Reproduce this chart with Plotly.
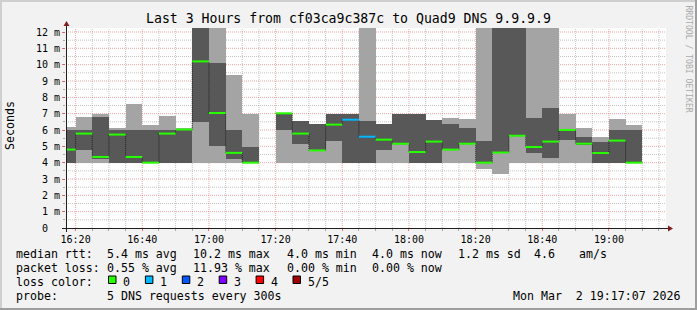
import plotly.graph_objects as go
from datetime import datetime, timedelta

# ---------------- data ----------------
bar_starts = ["16:15", "16:20", "16:25", "16:30", "16:35", "16:40", "16:45", "16:50",
              "16:55", "17:00", "17:05", "17:10", "17:15", "17:20", "17:25", "17:30",
              "17:35", "17:40", "17:45", "17:50", "17:55", "18:00", "18:05", "18:10",
              "18:15", "18:20", "18:25", "18:30", "18:35", "18:40", "18:45", "18:50",
              "18:55", "19:00", "19:05"]
# ms; 13.0 = off the top of the scale (clipped)
ping_min = [4.0, 4.0, 4.0, 4.0, 4.0, 4.0, 4.0, 4.0, 4.0, 4.0, 4.0, 4.0, None, 4.0, 4.0, 4.0,
            4.0, 4.0, 4.0, 4.0, 4.0, 4.0, 4.0, 4.0, 4.0, 3.63, 3.33, 4.0, 4.0, 4.0, 4.0, 4.0,
            4.0, 4.0, 4.0]
ping_p2 = [4.0, 4.8, 4.2, 4.0, 4.0, 4.0, 4.0, 4.0, 6.5, 5.02, 4.2, 4.0, None, 6.0, 5.16, 4.72,
           5.35, 4.0, 4.0, 4.78, 5.12, 4.0, 4.0, 4.76, 5.12, 4.0, 4.6, 5.62, 4.61, 4.31, 5.39, 5.1,
           4.0, 4.0, 4.0]
median = [4.8, 5.78, 4.35, 5.72, 4.35, 4.0, 5.78, 6.03, 10.2, 7.04, 4.6, 4.0, None, 7.02, 5.78, 4.75,
          6.33, 6.63, 5.59, 5.41, 5.16, 4.65, 5.29, 4.8, 5.16, 4.0, 4.62, 5.65, 4.96, 5.29, 6.0, 5.16,
          4.59, 5.35, 4.0]
ping_p4 = [6.0, 6.0, 6.8, 6.0, 6.0, 6.0, 6.0, 6.0, 13.0, 10.12, 6.0, 4.96, None, 7.0, 6.53, 6.37,
           7.0, 7.0, 6.53, 6.37, 7.0, 7.0, 6.59, 6.37, 6.12, 5.35, 13.0, 13.0, 6.74, 7.35, 6.0, 5.57,
           5.27, 6.0, 6.0]
ping_max = [6.2, 6.8, 7.0, 6.12, 7.6, 6.3, 6.86, 6.12, 13.0, 13.0, 9.37, 7.0, None, 7.0, 6.53, 6.37,
            7.0, 7.0, 13.0, 6.37, 7.0, 7.0, 6.59, 6.74, 6.67, 13.0, 13.0, 13.0, 13.0, 13.0, 7.0, 6.12,
            5.57, 6.67, 6.31]
loss = [0, 0, 0, 0, 0, 0, 0, 0, 0, 0, 0, 0, None, 0, 0, 0,
        0, 1, 1, 0, 0, 0, 0, 0, 0, 0, 0, 0, 0, 0, 0, 0,
        0, 0, 0]

loss_labels = ["0", "1", "2", "3", "4", "5/5"]
loss_colors = ["#26ff00", "#00b8ff", "#0059ff", "#7e00ff", "#ff0000", "#a10000"]

y_tick_vals = list(range(0, 13))
y_tick_text = ["0\u00a0\u00a0"] + [f"{v} m" for v in range(1, 13)]

title = "Last 3 Hours from cf03ca9c387c to Quad9 DNS 9.9.9.9"
legend_rows = [
    [("median rtt:", 16), ("5.4 ms avg", 107.3), ("10.2 ms max", 193.3), ("4.0 ms min", 286.5),
     ("4.0 ms now", 372.3), ("1.2 ms sd", 458.3), ("4.6", 534.3), ("am/s", 579.3)],
    [("packet loss:", 16), ("0.55 % avg", 107.3), ("11.93 % max", 193.3), ("0.00 % min", 286.5),
     ("0.00 % now", 372.3)],
    [("loss color:", 16)],
    [("probe:", 16), ("5 DNS requests every 300s", 107.3),
     ("Mon Mar\u00a0\u00a02 19:17:07 2026", 512.7)],
]
row_y = [254, 268, 282, 296]

# ---------------- geometry ----------------
W, H = 697, 310
PL, PT, PW, PH = 66, 28, 600, 200
def px(x):
    return (x - PL) / PW
def py(y):
    return (PT + PH - y) / PH

DAY = datetime(2026, 3, 2)
def ts(hm):
    return DAY + timedelta(hours=int(hm[:2]), minutes=int(hm[3:]))
STEP = timedelta(minutes=5)
x_start = DAY + timedelta(hours=16, minutes=17, seconds=7)
x_end = DAY + timedelta(hours=19, minutes=17, seconds=7)

LIGHT = "#a4a4a4"
DARK = "#585858"
MONO = "DejaVu Sans Mono"

fig = go.Figure()

valid = [i for i in range(len(bar_starts)) if median[i] is not None]
centers = [ts(bar_starts[i]) + STEP / 2 for i in valid]
width_ms = STEP.total_seconds() * 1000

fig.add_trace(go.Bar(
    x=centers, base=[ping_min[i] for i in valid],
    y=[ping_max[i] - ping_min[i] for i in valid],
    width=[width_ms] * len(valid), marker=dict(color=LIGHT, line=dict(width=0)),
    hoverinfo="skip", showlegend=False))
fig.add_trace(go.Bar(
    x=centers, base=[ping_p2[i] for i in valid],
    y=[ping_p4[i] - ping_p2[i] for i in valid],
    width=[width_ms] * len(valid), marker=dict(color=DARK, line=dict(width=0)),
    hoverinfo="skip", showlegend=False))

# dotted connector of the median steps
cx, cy = [], []
for i, s in enumerate(bar_starts):
    if median[i] is None:
        cx.append(None); cy.append(None)
        continue
    cx += [ts(s), ts(s) + STEP]
    cy += [median[i], median[i]]
fig.add_trace(go.Scatter(x=cx, y=cy, mode="lines",
                         line=dict(color="#202020", width=1, dash="1px,1px"),
                         connectgaps=False, hoverinfo="skip", showlegend=False))

# median segments coloured by loss
for lv, col in enumerate(loss_colors):
    sx, sy = [], []
    for i, s in enumerate(bar_starts):
        if loss[i] == lv:
            sx += [ts(s), ts(s) + STEP, None]
            sy += [median[i], median[i], None]
    if sx:
        fig.add_trace(go.Scatter(x=sx, y=sy, mode="lines", line=dict(color=col, width=2),
                                 hoverinfo="skip", showlegend=False))

shapes = []
# grid (under the data)
MINOR = "rgba(140,140,140,0.5)"
MAJOR = "rgba(222,79,79,0.5)"
t = ts("16:20")
while t <= x_end:
    major = (t.minute % 20 == 0)
    shapes.append(dict(type="line", xref="x", yref="paper", x0=t, x1=t, y0=0, y1=1,
                       line=dict(color=MAJOR if major else MINOR, width=1, dash="1px,1px"),
                       layer="below"))
    t += STEP
for k in range(1, 25):
    v = k * 0.5
    shapes.append(dict(type="line", xref="paper", yref="y", x0=0, x1=1, y0=v, y1=v,
                       line=dict(color=MAJOR if k % 2 == 0 else MINOR, width=1, dash="1px,1px"),
                       layer="below"))

# axes lines + arrows
AX = "#1f1f1f"
ARR = "#801f1f"
shapes.append(dict(type="line", xref="paper", yref="paper", x0=px(62), x1=px(670),
                   y0=py(228.5), y1=py(228.5), line=dict(color=AX, width=1), layer="above"))
shapes.append(dict(type="line", xref="paper", yref="paper", x0=px(66.5), x1=px(66.5),
                   y0=py(232), y1=py(25), line=dict(color=AX, width=1), layer="above"))
shapes.append(dict(type="path", xref="paper", yref="paper",
                   path=f"M {px(668)} {py(225.5)} L {px(673)} {py(228.5)} L {px(668)} {py(231.5)} Z",
                   fillcolor=ARR, line=dict(width=0), layer="above"))
shapes.append(dict(type="path", xref="paper", yref="paper",
                   path=f"M {px(63.5)} {py(26)} L {px(66.5)} {py(21)} L {px(69.5)} {py(26)} Z",
                   fillcolor=ARR, line=dict(width=0), layer="above"))

# frame (3d shade)
shapes.append(dict(type="rect", xref="paper", yref="paper", x0=px(0), x1=px(W), y0=py(0), y1=py(2),
                   fillcolor="#cfcfcf", line=dict(width=0), layer="below"))
shapes.append(dict(type="rect", xref="paper", yref="paper", x0=px(0), x1=px(2), y0=py(0), y1=py(H),
                   fillcolor="#cfcfcf", line=dict(width=0), layer="below"))
shapes.append(dict(type="rect", xref="paper", yref="paper", x0=px(0), x1=px(W), y0=py(H - 2), y1=py(H),
                   fillcolor="#9e9e9e", line=dict(width=0), layer="below"))
shapes.append(dict(type="rect", xref="paper", yref="paper", x0=px(W - 2), x1=px(W), y0=py(0), y1=py(H),
                   fillcolor="#9e9e9e", line=dict(width=0), layer="below"))

# legend colour boxes
for k, (lab, col) in enumerate(zip(loss_labels, loss_colors)):
    x0 = 108.5 + 36.9 * k
    shapes.append(dict(type="rect", xref="paper", yref="paper", x0=px(x0), x1=px(x0 + 7.5),
                       y0=py(276), y1=py(283.5), fillcolor=col, line=dict(color="#000", width=1)))

annotations = []
def ann(text, x, y, size=11.6, xanchor="left", color="#000", angle=0):
    annotations.append(dict(text=text, x=px(x), y=py(y), xref="paper", yref="paper",
                            xanchor=xanchor, yanchor="middle", showarrow=False,
                            textangle=angle, borderpad=0, borderwidth=0,
                            font=dict(family=MONO, size=size, color=color)))

ann(title, 348.5, 18.5, size=13.2, xanchor="center")
ann("Seconds", 10, 126, xanchor="center", angle=-90)
ann("RRDTOOL / TOBI OETIKER", 688.5, 59, size=8.1, xanchor="center", color="#aaaaaa", angle=90)
for row, yy in zip(legend_rows, row_y):
    for text, xx in row:
        ann(text.replace("  ", "\u00a0\u00a0"), xx, yy)
for k, lab in enumerate(loss_labels):
    ann(lab, 123.3 + 36.9 * k, 282)

fig.update_layout(
    width=W, height=H, autosize=False,
    margin=dict(l=PL, r=W - PL - PW, t=PT, b=H - PT - PH, pad=0),
    paper_bgcolor="#f2f2f2", plot_bgcolor="#ffffff",
    barmode="overlay", bargap=0, showlegend=False,
    shapes=shapes, annotations=annotations,
    font=dict(family=MONO, color="#000"),
)
fig.update_xaxes(
    type="date", range=[x_start, x_end], showgrid=False, zeroline=False, showline=False,
    tick0=ts("16:20"), dtick=20 * 60 * 1000, tickformat="%H:%M",
    ticks="outside", ticklen=2, tickcolor="rgba(222,79,79,0.8)", tickwidth=1,
    tickfont=dict(family=MONO, size=10, color="#000"),
    minor=dict(dtick=5 * 60 * 1000, ticks="outside", ticklen=2, tickcolor="rgba(140,140,140,0.7)",
               showgrid=False),
    fixedrange=True,
)
fig.update_yaxes(
    range=[0, PH / 16.333], showgrid=False, zeroline=False, showline=False,
    tickvals=y_tick_vals, ticktext=y_tick_text,
    ticks="outside", ticklen=3, tickcolor="rgba(222,79,79,0.8)", tickwidth=1,
    tickfont=dict(family=MONO, size=10, color="#000"),
    minor=dict(dtick=0.5, ticks="outside", ticklen=2, tickcolor="rgba(140,140,140,0.7)",
               showgrid=False),
    fixedrange=True,
)

fig.write_html("out.html")
